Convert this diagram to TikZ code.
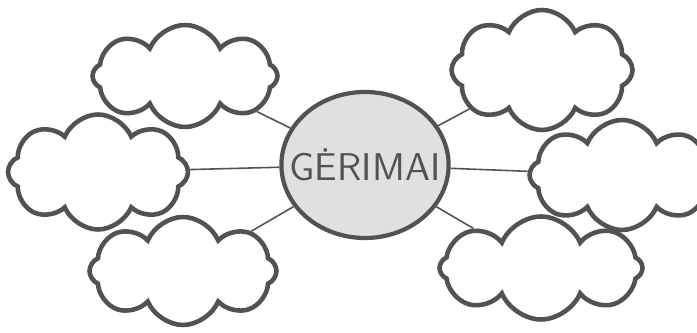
\documentclass[tikz,border=0pt]{standalone}
\usepackage{fontspec}
\usetikzlibrary{shapes.symbols,shapes.geometric}
\definecolor{LineClr}{rgb}{0.32,0.32,0.32}
\definecolor{CoreClr}{rgb}{0.88,0.88,0.88}

\begin{document}
\begin{tikzpicture}[
  cloudbox/.style={cloud, cloud puffs=8, cloud puff arc=135, cloud ignores aspect,
    draw=LineClr, line width=1.3pt, fill=white, inner sep=0pt},
  core/.style={ellipse, draw=LineClr, line width=1.2pt, fill=CoreClr,
    inner xsep=-4.6pt, inner ysep=0pt,
    minimum width=1.66cm, minimum height=1.46cm, text=LineClr,
    font=\sffamily\fontsize{11}{13}\selectfont},
  link/.style={LineClr, line width=0.45pt}]
\useasboundingbox (0,0) rectangle (6.97,3.33);

\node[core] (core) at (3.65,1.68) {GĖRIMAI};

% left side
\node[cloudbox, minimum width=1.85cm, minimum height=1.02cm] (cTL) at (1.85,2.57) {};
\node[cloudbox, minimum width=1.80cm, minimum height=1.15cm] (cML) at (0.98,1.61) {};
\node[cloudbox, minimum width=1.87cm, minimum height=1.08cm] (cBL) at (1.83,0.62) {};

% right side
\node[cloudbox, minimum width=1.81cm, minimum height=1.20cm] (cTR) at (5.42,2.63) {};
\node[cloudbox, minimum width=1.85cm, minimum height=1.10cm] (cMR) at (6.22,1.58) {};
\node[cloudbox, minimum width=2.03cm, minimum height=1.03cm] (cBR) at (5.41,0.65) {};

\draw[link] (cTL) -- (core);
\draw[link] (cML) -- (core);
\draw[link] (cBL) -- (core);
\draw[link] (cTR) -- (core);
\draw[link] (cMR) -- (core);
\draw[link] (cBR) -- (core);

\end{tikzpicture}
\end{document}
